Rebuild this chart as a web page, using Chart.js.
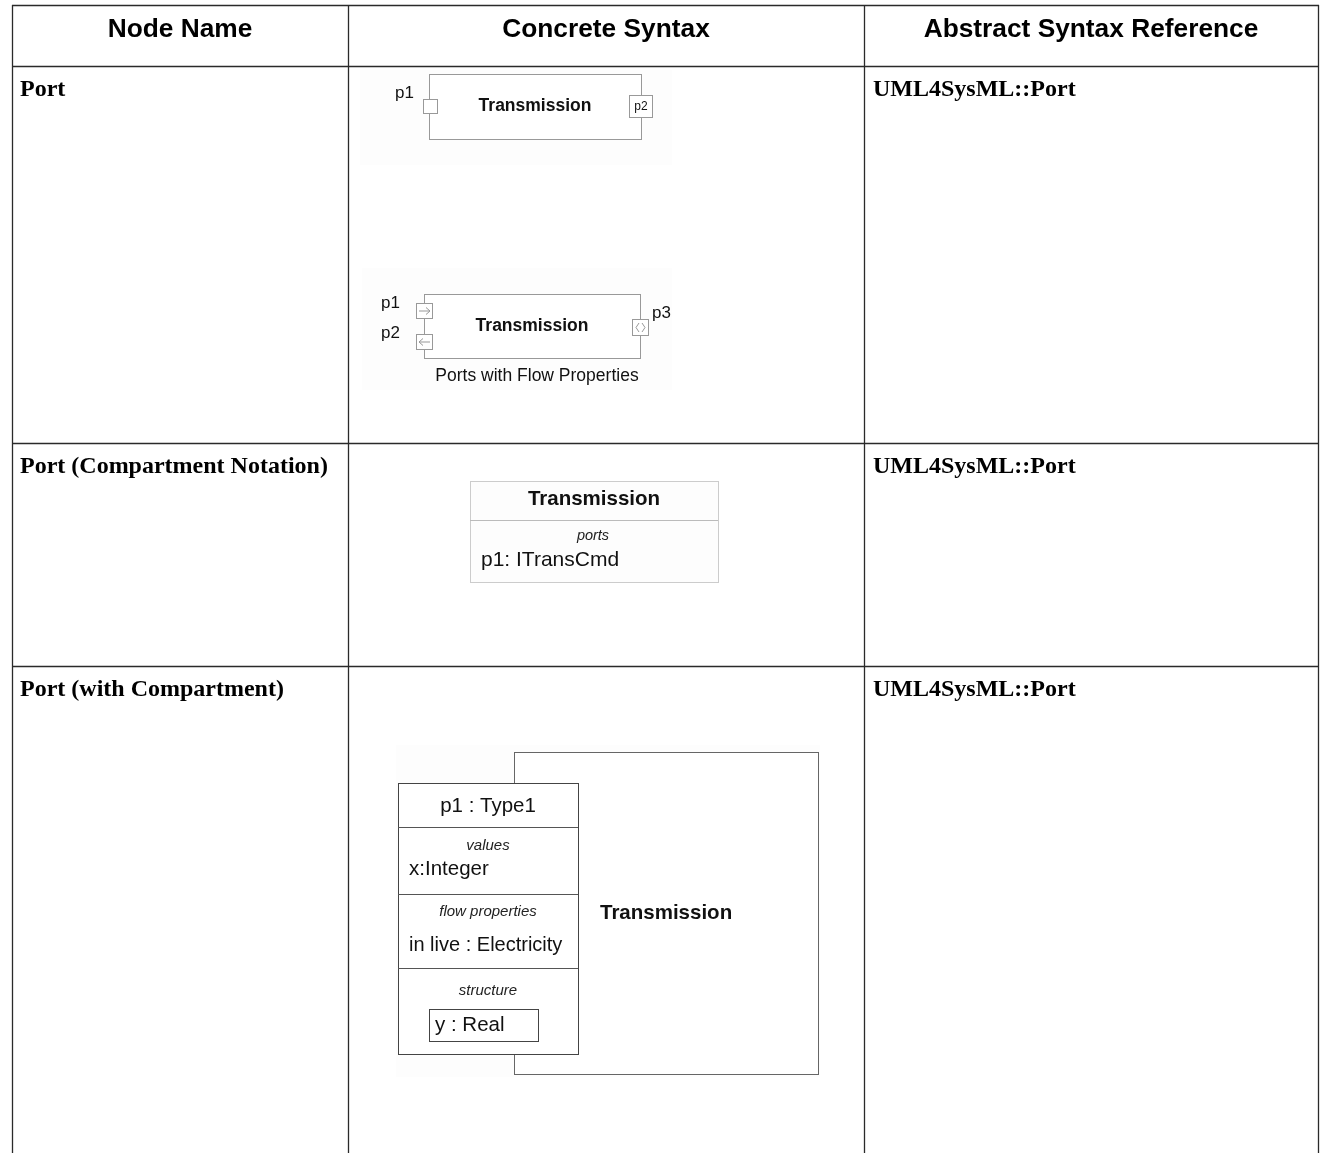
<!DOCTYPE html>
<html>
<head>
<meta charset="utf-8">
<script src="https://cdn.jsdelivr.net/npm/chart.js@4/dist/chart.umd.min.js"></script>
<style>
html,body{margin:0;padding:0;background:#fff;}
#wrap{width:1321px;height:1153px;position:relative;}
canvas{display:block;}
</style>
</head>
<body>
<div id="wrap"><canvas id="c" width="1321" height="1153"></canvas></div>
<script>
// ---- data (text content) ----
const columnHeaders = ['Node Name', 'Concrete Syntax', 'Abstract Syntax Reference'];
const nodeNames = ['Port', 'Port (Compartment Notation)', 'Port (with Compartment)'];
const abstractRefs = ['UML4SysML::Port', 'UML4SysML::Port', 'UML4SysML::Port'];
const blockName = 'Transmission';
const diagram1Ports = ['p1', 'p2'];
const diagram2Ports = ['p1', 'p2', 'p3'];
const diagram2Caption = 'Ports with Flow Properties';
const diagram3Compartment = ['ports', 'p1: ITransCmd'];
const diagram4Port = 'p1 : Type1';
const diagram4Sections = [['values', 'x:Integer'], ['flow properties', 'in live : Electricity'], ['structure', 'y : Real']];

// ---- layout ----
const colEdges = [12, 348, 864, 1318];
const rowEdges = [5, 66, 443, 666];
const rowBaselines = [96, 473, 696];

const SANS = '"Liberation Sans", Arial, sans-serif';
const SERIF = '"Liberation Serif", "Times New Roman", serif';

const tablePlugin = {
  id: 'tableDraw',
  afterDraw(chart) {
    const ctx = chart.ctx;
    const sx = chart.scales.x, sy = chart.scales.y;
    const X = v => sx.getPixelForValue(v);
    const Y = v => sy.getPixelForValue(v);
    function line(x1, y1, x2, y2, color, w) {
      ctx.save(); ctx.strokeStyle = color; ctx.lineWidth = w || 1;
      ctx.beginPath(); ctx.moveTo(X(x1), Y(y1)); ctx.lineTo(X(x2), Y(y2)); ctx.stroke(); ctx.restore();
    }
    function rect(x, y, w, h, stroke, fill, lw) {
      ctx.save();
      const px = X(x), py = Y(y), pw = X(x + w) - px, ph = Y(y + h) - py;
      if (fill) { ctx.fillStyle = fill; ctx.fillRect(px, py, pw, ph); }
      if (stroke) { ctx.strokeStyle = stroke; ctx.lineWidth = lw || 1; ctx.strokeRect(px + 0.5, py + 0.5, pw, ph); }
      ctx.restore();
    }
    function text(s, x, y, font, align, base, color) {
      ctx.save(); ctx.font = font; ctx.textAlign = align || 'left'; ctx.textBaseline = base || 'alphabetic';
      ctx.fillStyle = color || '#000'; ctx.fillText(s, X(x), Y(y)); ctx.restore();
    }

    // table grid
    const bottom = 1160;
    colEdges.forEach(cx => line(cx + 0.5, rowEdges[0], cx + 0.5, bottom, '#2a2a2a', 1.3));
    rowEdges.forEach(ry => line(colEdges[0], ry + 0.5, colEdges[3] + 1, ry + 0.5, '#2a2a2a', 1.3));

    // headers
    columnHeaders.forEach((h, i) => {
      text(h, (colEdges[i] + colEdges[i + 1]) / 2, 37, 'bold 26.3px ' + SANS, 'center', 'alphabetic', '#000');
    });
    // body text
    nodeNames.forEach((n, i) => text(n, 20, rowBaselines[i], 'bold 24px ' + SERIF, 'left'));
    abstractRefs.forEach((n, i) => text(n, 873, rowBaselines[i], 'bold 24px ' + SERIF, 'left'));

    // ---- diagram 1 ----
    rect(360, 70, 312, 95, null, 'rgba(0,0,0,0.008)');
    rect(429, 74, 212, 65, '#999', '#fff');
    rect(423, 99, 14, 14, '#999', '#fff');
    rect(629, 95, 23, 22, '#999', '#fff');
    text(diagram1Ports[1], 641, 107, '12px ' + SANS, 'center', 'middle', '#111');
    text(diagram1Ports[0], 395, 98, '17px ' + SANS, 'left', 'alphabetic', '#111');
    text(blockName, 535, 106, 'bold 17.5px ' + SANS, 'center', 'middle', '#111');

    // ---- diagram 2 ----
    rect(362, 268, 310, 122, null, 'rgba(0,0,0,0.008)');
    rect(424, 294, 216, 64, '#999', '#fff');
    rect(416, 303, 16, 15, '#999', '#fff');
    rect(416, 334, 16, 15, '#999', '#fff');
    rect(632, 319, 16, 16, '#999', '#fff');
    // arrows
    line(419, 311, 430, 311, '#999', 1);
    line(430, 311, 426, 307.5, '#999', 1);
    line(430, 311, 426, 314.5, '#999', 1);
    line(419, 342, 430, 342, '#999', 1);
    line(419, 342, 423, 338.5, '#999', 1);
    line(419, 342, 423, 345.5, '#999', 1);
    // chevrons <>
    line(639, 323, 636, 327.5, '#999', 1); line(636, 327.5, 639, 332, '#999', 1);
    line(642, 323, 645, 327.5, '#999', 1); line(645, 327.5, 642, 332, '#999', 1);
    text(diagram2Ports[0], 381, 308, '17px ' + SANS, 'left', 'alphabetic', '#111');
    text(diagram2Ports[1], 381, 338, '17px ' + SANS, 'left', 'alphabetic', '#111');
    text(diagram2Ports[2], 652, 318, '17px ' + SANS, 'left', 'alphabetic', '#111');
    text(blockName, 532, 326, 'bold 17.5px ' + SANS, 'center', 'middle', '#111');
    text(diagram2Caption, 537, 376, '17.5px ' + SANS, 'center', 'middle', '#111');

    // ---- diagram 3 ----
    rect(470, 481, 248, 101, '#ccc', '#fdfdfd');
    line(470, 520.5, 718, 520.5, '#bbb', 1);
    text(blockName, 594, 499, 'bold 20.5px ' + SANS, 'center', 'middle', '#111');
    text(diagram3Compartment[0], 593, 536, 'italic 14.5px ' + SANS, 'center', 'middle', '#222');
    text(diagram3Compartment[1], 481, 560, '21px ' + SANS, 'left', 'middle', '#111');

    // ---- diagram 4 ----
    rect(396, 745, 424, 332, null, 'rgba(0,0,0,0.006)');
    rect(514, 752, 304, 322, '#666', '#fff');
    rect(398, 783, 180, 271, '#444', '#fff');
    line(398, 827.5, 578, 827.5, '#555', 1);
    line(398, 894.5, 578, 894.5, '#555', 1);
    line(398, 968.5, 578, 968.5, '#555', 1);
    text(diagram4Port, 488, 806, '20.5px ' + SANS, 'center', 'middle', '#111');
    text(diagram4Sections[0][0], 488, 846, 'italic 15px ' + SANS, 'center', 'middle', '#222');
    text(diagram4Sections[0][1], 409, 869, '20.5px ' + SANS, 'left', 'middle', '#111');
    text(diagram4Sections[1][0], 488, 912, 'italic 15px ' + SANS, 'center', 'middle', '#222');
    text(diagram4Sections[1][1], 409, 945, '20px ' + SANS, 'left', 'middle', '#111');
    text(diagram4Sections[2][0], 488, 991, 'italic 15px ' + SANS, 'center', 'middle', '#222');
    rect(429, 1009, 109, 32, '#444', '#fff');
    text(diagram4Sections[2][1], 435, 1025, '20.5px ' + SANS, 'left', 'middle', '#111');
    text(blockName, 600, 913, 'bold 20.5px ' + SANS, 'left', 'middle', '#111');
  }
};

new Chart(document.getElementById('c'), {
  type: 'scatter',
  data: { datasets: [{ data: [], pointRadius: 0 }] },
  options: {
    responsive: false,
    animation: false,
    events: [],
    layout: { padding: 0 },
    plugins: { legend: { display: false }, tooltip: { enabled: false } },
    scales: {
      x: { type: 'linear', min: 0, max: 1321, display: false },
      y: { type: 'linear', min: 0, max: 1153, reverse: true, display: false }
    }
  },
  plugins: [tablePlugin]
});
</script>
</body>
</html>
